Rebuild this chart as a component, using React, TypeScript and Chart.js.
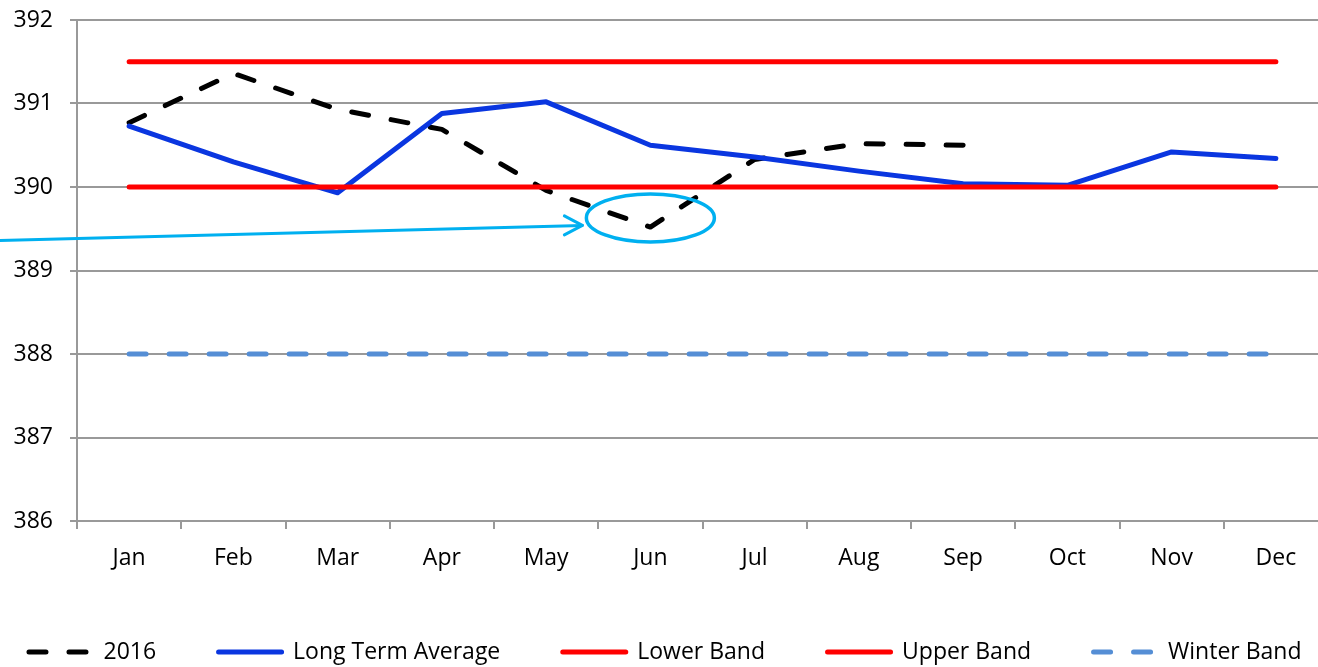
import React, { useEffect, useRef } from "react";
import { Chart, registerables } from "chart.js";

Chart.register(...registerables);

const months = ["Jan", "Feb", "Mar", "Apr", "May", "Jun", "Jul", "Aug", "Sep", "Oct", "Nov", "Dec"];
const series2016 = [390.77, 391.36, 390.93, 390.69, 389.96, 389.52, 390.33, 390.52, 390.5, null, null, null];
const longTermAverage = [390.73, 390.3, 389.93, 390.88, 391.02, 390.5, 390.36, 390.19, 390.04, 390.02, 390.42, 390.34];
const lowerBand = [390, 390, 390, 390, 390, 390, 390, 390, 390, 390, 390, 390];
const upperBand = [391.5, 391.5, 391.5, 391.5, 391.5, 391.5, 391.5, 391.5, 391.5, 391.5, 391.5, 391.5];
const winterBand = [388, 388, 388, 388, 388, 388, 388, 388, 388, 388, 388, 388];
const yMin = 386;
const yMax = 392;
const yStep = 1;

// annotation (highlight ellipse around the June dip, arrow pointing at it)
const highlightMonth = "Jun";
const highlightValue = 389.63;
const arrowStartValue = 389.36;
const arrowEndValue = 389.54;

const FONT = "'Open Sans', 'Noto Sans', 'DejaVu Sans', sans-serif";
const FONT_SIZE = 23;

const legendPlugin = {
  id: "customLegend",
  afterDraw(chart: any) {
    const ctx = chart.ctx;
    const items = chart.data.datasets.map((d: any) => ({
      label: d.label,
      color: d.borderColor,
      dash: d.borderDash || [],
      width: d.borderWidth,
    }));
    ctx.save();
    ctx.font = `${FONT_SIZE}px ${FONT}`;
    const symW = 68;
    const symGap = 9;
    const itemGap = 60;
    let total = 0;
    items.forEach((it: any, i: number) => {
      total += symW + symGap + ctx.measureText(it.label).width + (i < items.length - 1 ? itemGap : 0);
    });
    let x = chart.width / 2 - total / 2;
    const y = 652;
    items.forEach((it: any) => {
      ctx.beginPath();
      ctx.strokeStyle = it.color;
      ctx.lineWidth = it.width;
      ctx.lineCap = "round";
      ctx.setLineDash(it.dash);
      ctx.moveTo(x + 2.5, y);
      ctx.lineTo(x + symW - 2.5, y);
      ctx.stroke();
      ctx.setLineDash([]);
      ctx.fillStyle = "#000";
      ctx.textBaseline = "middle";
      ctx.textAlign = "left";
      const tx = x + symW + symGap;
      ctx.fillText(it.label, tx, y);
      x = tx + ctx.measureText(it.label).width + itemGap;
    });
    ctx.restore();
  },
};

const annotationPlugin = {
  id: "highlight",
  afterDatasetsDraw(chart: any) {
    const ctx = chart.ctx;
    const xs = chart.scales.x;
    const ys = chart.scales.y;
    const cx = xs.getPixelForValue(months.indexOf(highlightMonth));
    const cy = ys.getPixelForValue(highlightValue);
    const rx = 64;
    const ry = 24;
    ctx.save();
    ctx.strokeStyle = "#00b0f0";
    ctx.lineWidth = 3.5;
    ctx.beginPath();
    ctx.ellipse(cx, cy, rx, ry, 0, 0, Math.PI * 2);
    ctx.stroke();
    const tipX = cx - rx - 4;
    const tipY = ys.getPixelForValue(arrowEndValue);
    const startY = ys.getPixelForValue(arrowStartValue);
    ctx.lineWidth = 3;
    ctx.lineCap = "round";
    ctx.lineJoin = "round";
    ctx.beginPath();
    ctx.moveTo(0, startY);
    ctx.lineTo(tipX, tipY);
    ctx.stroke();
    ctx.beginPath();
    ctx.moveTo(tipX - 18, tipY - 9.5);
    ctx.lineTo(tipX, tipY);
    ctx.lineTo(tipX - 18, tipY + 9.5);
    ctx.stroke();
    ctx.restore();
  },
};

export default function App() {
  const ref = useRef<HTMLCanvasElement>(null);
  useEffect(() => {
    if (!ref.current) return;
    const chart = new Chart(ref.current, {
      type: "line",
      data: {
        labels: months,
        datasets: [
          {
            label: "2016",
            data: series2016,
            borderColor: "#000000",
            borderWidth: 5,
            borderDash: [17, 23],
            borderCapStyle: "round",
            borderJoinStyle: "round",
            pointRadius: 0,
            tension: 0,
            spanGaps: false,
            order: 5,
          },
          {
            label: "Long Term Average",
            data: longTermAverage,
            borderColor: "#0a36e0",
            borderWidth: 5,
            borderCapStyle: "round",
            borderJoinStyle: "round",
            pointRadius: 0,
            tension: 0,
            order: 4,
          },
          {
            label: "Lower Band",
            data: lowerBand,
            borderColor: "#ff0000",
            borderWidth: 5,
            borderCapStyle: "round",
            pointRadius: 0,
            order: 3,
          },
          {
            label: "Upper Band",
            data: upperBand,
            borderColor: "#ff0000",
            borderWidth: 5,
            borderCapStyle: "round",
            pointRadius: 0,
            order: 2,
          },
          {
            label: "Winter Band",
            data: winterBand,
            borderColor: "#558ed5",
            borderWidth: 5,
            borderDash: [17, 23],
            borderCapStyle: "round",
            pointRadius: 0,
            order: 1,
          },
        ],
      } as any,
      options: {
        animation: false,
        responsive: false,
        devicePixelRatio: 1,
        layout: { padding: { top: 20, right: 0, left: 0, bottom: 86 } },
        plugins: {
          legend: { display: false },
          title: { display: false },
          tooltip: { enabled: false },
        },
        scales: {
          x: {
            type: "category",
            offset: true,
            grid: {
              offset: true,
              drawOnChartArea: false,
              drawTicks: true,
              tickLength: 8,
              color: "#999999",
              lineWidth: 2,
            },
            border: { color: "#999999", width: 2 },
            ticks: {
              color: "#000",
              font: { family: FONT, size: FONT_SIZE },
              padding: 16,
              maxRotation: 0,
              autoSkip: false,
            },
            afterFit: (s: any) => {
              s.height = 60;
              s.paddingLeft = 0;
              s.paddingRight = 0;
            },
          },
          y: {
            min: yMin,
            max: yMax,
            grid: {
              color: "#999999",
              lineWidth: 2,
              tickLength: 7,
            },
            border: { color: "#999999", width: 2 },
            ticks: {
              stepSize: yStep,
              color: "#000",
              font: { family: FONT, size: FONT_SIZE },
              padding: 17,
            },
            afterFit: (s: any) => {
              s.width = 77;
              s.paddingTop = 0;
              s.paddingBottom = 0;
            },
          },
        },
      } as any,
      plugins: [annotationPlugin, legendPlugin],
    });
    return () => chart.destroy();
  }, []);
  return (
    <div style={{ position: "absolute", left: 0, top: 0, width: 1318, height: 667, overflow: "hidden", background: "#fff" }}>
      <canvas ref={ref} width={1328} height={667} style={{ display: "block", width: 1328, height: 667 }} />
    </div>
  );
}
